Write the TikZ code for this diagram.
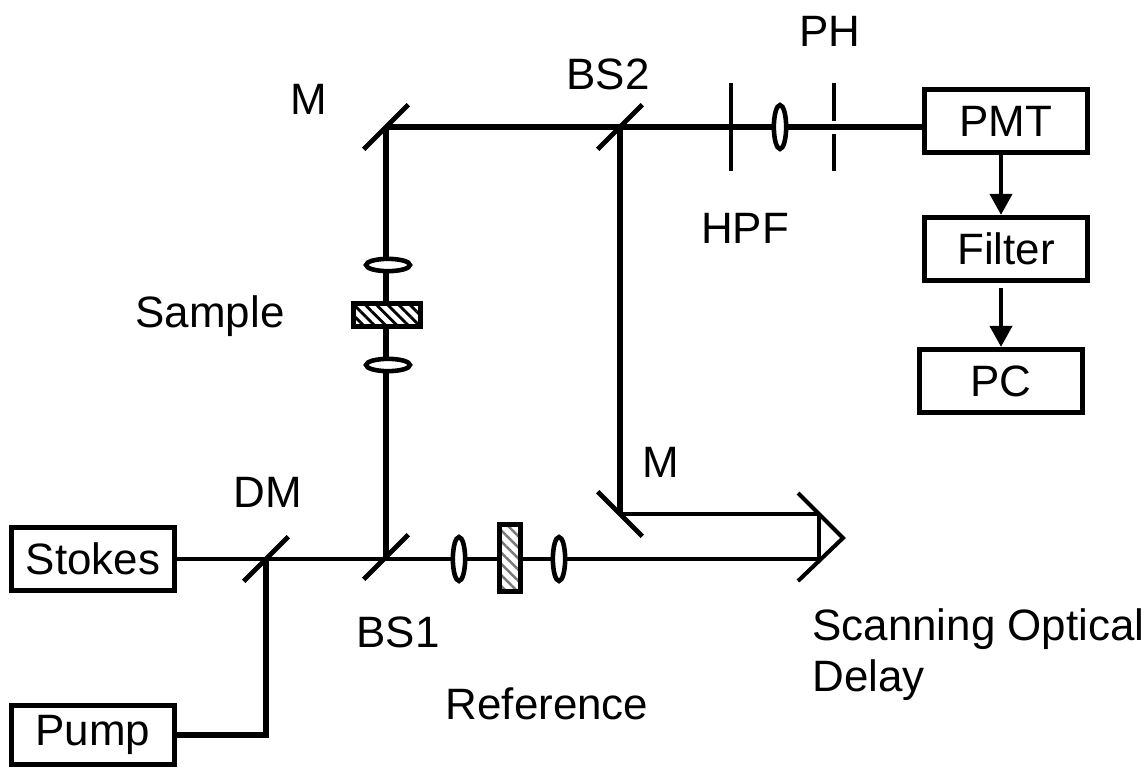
\documentclass[tikz,border=0pt]{standalone}
\usepackage{fontspec}
\setmainfont{Liberation Sans}
\usetikzlibrary{positioning, arrows.meta, shapes.geometric, patterns.meta, backgrounds}
\definecolor{hatchgray}{RGB}{120, 120, 120}
\tikzset{
  every node/.style={font=\fontsize{25}{29}\selectfont},
  unitbox/.style={
    draw=black,
    line width=2.8pt,
    fill=white,
    minimum width=93pt,
    inner sep=0pt
  },
  mirror/.style={
    fill=black,
    inner sep=0pt,
    minimum width=36pt,
    minimum height=2.8pt,
    rotate=45
  },
  lens/.style={
    ellipse,
    draw=black,
    line width=2.6pt,
    fill=white,
    inner sep=0pt,
    minimum width=7pt,
    minimum height=25pt
  },
  beam/.style={line width=3pt, draw=black},
  thinbeam/.style={line width=2.3pt, draw=black},
  signal/.style={line width=2.4pt, draw=black, -{Stealth[inset=0pt, length=12pt, width=12.5pt]}}
}

\begin{document}
\begin{tikzpicture}[x=0.02cm, y=-0.02cm]
  \useasboundingbox (0, 0) rectangle (1148, 767);

  % sources and detection
  \node[unitbox, minimum height=36pt] (stokes) at (93, 559) {Stokes};
  \node[unitbox, minimum height=34pt] (pump) at (93, 735) {Pump};
  \node[unitbox, minimum height=36pt] (pmt) at (1006, 121) {PMT};
  \node[unitbox, minimum height=36pt] (filter) at (1006, 249) {Filter};
  \node[unitbox, minimum height=36pt] (pc) at (1001, 381) {PC};

  % mirrors
  \node[mirror] (dm) at (266, 559) {};
  \node[mirror] (bs1) at (386, 557) {};
  \node[mirror] (mtop) at (386, 127) {};
  \node[mirror] (bs2) at (620, 127) {};
  \node[mirror, rotate=90] (mdelay) at (620, 514) {};
  \coordinate (retrotop) at (819, 514);
  \coordinate (retrobot) at (819, 559);

  % sample arm
  \node[lens, rotate=90] (lens1) at (388, 265) {};
  \node[lens, rotate=90] (lens2) at (388, 365) {};
  \node[draw=black, line width=2.6pt, preaction={fill=white},
        pattern={Lines[angle=-45, distance=4.5pt, line width=1.6pt]},
        minimum width=38pt, minimum height=13pt, inner sep=0pt] (sample) at (387, 315) {};

  % reference arm
  \node[lens] (lens3) at (459, 559) {};
  \node[lens] (lens4) at (559, 559) {};
  \node[draw=black, line width=2.8pt, preaction={fill=white},
        pattern={Lines[angle=-45, distance=4.5pt, line width=1.4pt]}, pattern color=hatchgray,
        minimum width=12pt, minimum height=38pt, inner sep=0pt] (reference) at (510, 558) {};

  % filters before the detector
  \coordinate (hpftop) at (731, 83);
  \coordinate (hpfbot) at (731, 171);
  \node[lens] (lens5) at (780, 127) {};
  \coordinate (phtop) at (834, 83);
  \coordinate (phgapa) at (834, 121);
  \coordinate (phgapb) at (834, 134);
  \coordinate (phbot) at (834, 171);

  \begin{scope}[on background layer]
    \draw[thinbeam] (stokes) -- (dm.center);
    \draw[beam] (pump) -| (dm.center);
    \draw[thinbeam] (dm.center) -- (retrobot);
    \draw[beam] (bs1.center) -- (mtop.center);
    \draw[beam] (mtop.center) -- (bs2.center);
    \draw[beam] (bs2.center) -- (pmt.west |- bs2.center);
    \draw[beam] (bs2.center) -- (mdelay.center);
    \draw[thinbeam] (mdelay.center) -- (retrotop);
  \end{scope}

  \draw[thinbeam] (retrotop) -- (retrobot);
  \draw[thinbeam] (798, 493) -- (843, 538) -- (798, 581);
  \draw[thinbeam] (hpftop) -- (hpfbot);
  \draw[thinbeam] (phtop) -- (phgapa);
  \draw[thinbeam] (phgapb) -- (phbot);

  \draw[signal] (pmt.south -| pc) -- (filter.north -| pc);
  \draw[signal, shorten <=3pt] (filter.south -| pc) -- (pc);

  % labels
  \node (lblmtop) at (309, 99) {M};
  \node (lblbs2) at (608, 74) {BS2};
  \node (lblph) at (830, 31) {PH};
  \node (lblhpf) at (745, 228) {HPF};
  \node (lblsample) at (210, 316) {Sample};
  \node (lbldm) at (268, 492) {DM};
  \node (lblbs1) at (398, 632) {BS1};
  \node (lblmdelay) at (661, 462) {M};
  \node (lblreference) at (547, 704) {Reference};
  \node[align=left, anchor=north west, inner sep=0pt] (lbldelay) at (812, 608) {Scanning Optical\\Delay};
\end{tikzpicture}
\end{document}
